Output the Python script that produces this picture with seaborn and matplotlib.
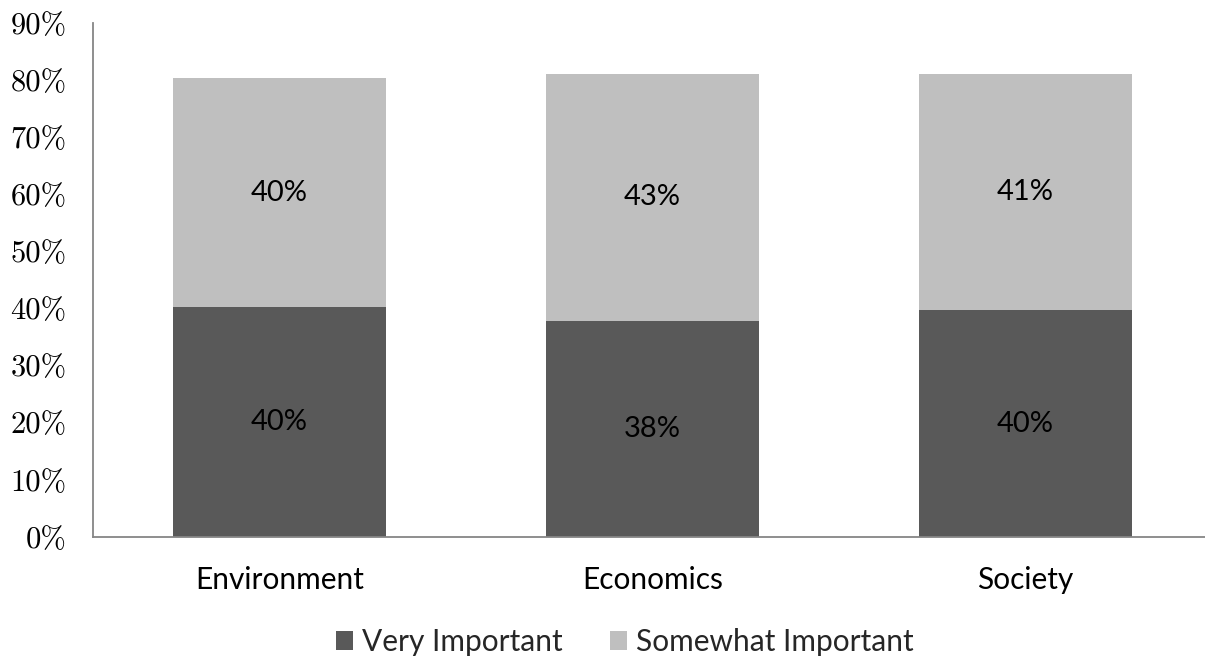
import matplotlib
matplotlib.use("Agg")
import matplotlib.pyplot as plt
from matplotlib.patches import Patch
import pandas as pd
import seaborn as sns

categories = ["Environment", "Economics", "Society"]
very_important = [40.2, 37.8, 39.7]
somewhat_important = [40.1, 43.3, 41.4]
series_names = ["Very Important", "Somewhat Important"]
y_ticks = [0, 10, 20, 30, 40, 50, 60, 70, 80, 90]

dark = "#595959"
light = "#bfbfbf"
axis_gray = "#868686"

sns.set_theme(style="white")
plt.rcParams["font.family"] = ["Lato", "DejaVu Sans"]

df = pd.DataFrame({
    "category": categories,
    "very": very_important,
    "somewhat": somewhat_important,
})
df["total"] = df["very"] + df["somewhat"]

fig = plt.figure(figsize=(12.05, 6.59), dpi=100)
ax = fig.add_axes([93 / 1205, 122 / 659, 1119 / 1205, 514 / 659])

bar_w = 0.571
sns.barplot(data=df, x="category", y="total", color=light, width=bar_w,
            saturation=1, ax=ax, linewidth=0)
sns.barplot(data=df, x="category", y="very", color=dark, width=bar_w,
            saturation=1, ax=ax, linewidth=0)

for i, (v, s) in enumerate(zip(very_important, somewhat_important)):
    ax.text(i, v / 2, f"{round(v)}%", ha="center", va="center",
            fontsize=21, color="black")
    ax.text(i, v + s / 2, f"{round(s)}%", ha="center", va="center",
            fontsize=21, color="black")

ax.set_xlim(-0.5, 2.5)
ax.set_ylim(0, 90)
ax.set_yticks(y_ticks)
ax.set_yticklabels([f"{t}%" for t in y_ticks], fontfamily="cmr10", fontsize=22)
ax.set_xlabel("")
ax.set_ylabel("")
ax.tick_params(axis="y", length=0, pad=19, colors="black")
ax.tick_params(axis="x", length=0, pad=21, labelsize=21.5, colors="black")

for side in ["top", "right"]:
    ax.spines[side].set_visible(False)
for side in ["left", "bottom"]:
    ax.spines[side].set_color(axis_gray)
    ax.spines[side].set_linewidth(1.3)

handles = [Patch(facecolor=dark, edgecolor="none"),
           Patch(facecolor=light, edgecolor="none")]
fig.legend(handles, series_names, loc="center",
           bbox_to_anchor=(625 / 1205, 17 / 659), ncol=2, frameon=False,
           fontsize=21.5, handlelength=0.57, handleheight=0.57,
           handletextpad=0.3, columnspacing=1.6, borderpad=0)

fig.savefig("out.png", dpi=100)
